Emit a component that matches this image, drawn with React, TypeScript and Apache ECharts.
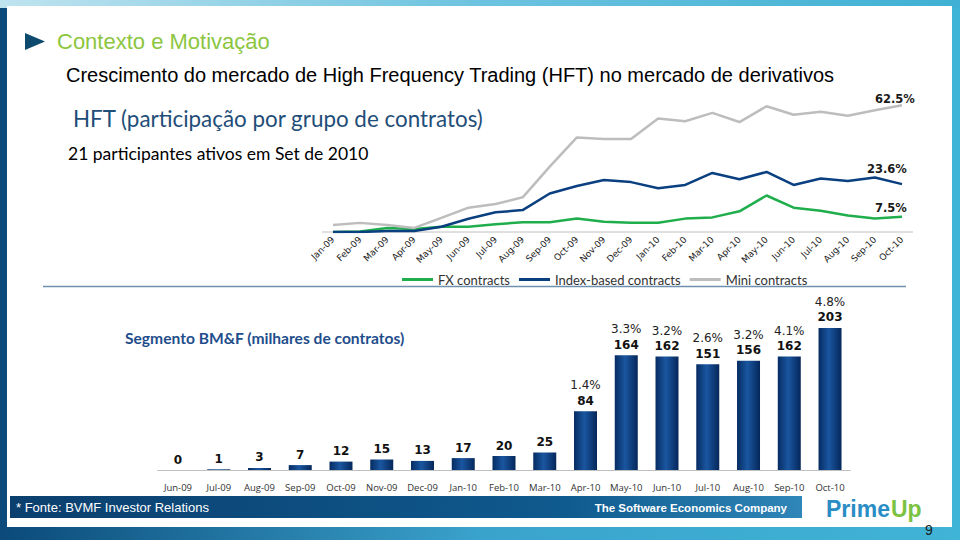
import React, { useEffect, useRef } from "react";
import * as echarts from "echarts";

const lineCats = ["Jan-09","Feb-09","Mar-09","Apr-09","May-09","Jun-09","Jul-09","Aug-09","Sep-09","Oct-09","Nov-09","Dec-09","Jan-10","Feb-10","Mar-10","Apr-10","May-10","Jun-10","Jul-10","Aug-10","Sep-10","Oct-10"];
const fxShare = [0, 0.3, 2.0, 1.5, 2.6, 2.6, 3.8, 4.8, 4.8, 6.6, 5.1, 4.6, 4.6, 6.6, 7.2, 10.2, 18.0, 12.0, 10.5, 8.1, 6.6, 7.5];
const indexShare = [0, 0, 0.5, 0.5, 2.6, 6.5, 9.7, 10.8, 19.0, 22.7, 25.6, 24.6, 21.6, 23.2, 29.1, 26.0, 29.6, 23.2, 26.4, 25.1, 26.9, 23.6];
const miniShare = [3.4, 4.5, 3.4, 2.0, 7.0, 12.0, 13.8, 17.1, 32.2, 46.6, 45.8, 45.8, 55.9, 54.6, 58.7, 54.2, 62.0, 57.8, 59.3, 57.3, 60.0, 62.5];
const lineNames = ["FX contracts", "Index-based contracts", "Mini contracts"];

const barCats = ["Jun-09","Jul-09","Aug-09","Sep-09","Oct-09","Nov-09","Dec-09","Jan-10","Feb-10","Mar-10","Apr-10","May-10","Jun-10","Jul-10","Aug-10","Sep-10","Oct-10"];
const barValues = [0, 1, 3, 7, 12, 15, 13, 17, 20, 25, 84, 164, 162, 151, 156, 162, 203];
const barPercents = [null, null, null, null, null, null, null, null, null, null, "1.4%", "3.3%", "3.2%", "2.6%", "3.2%", "4.1%", "4.8%"];

export default function App() {
  const ref = useRef<HTMLDivElement>(null);
  useEffect(() => {
    if (!ref.current) return;
    const chart = echarts.init(ref.current, null, { renderer: "svg" });
    const lineSeries = (i: number, data: number[], color: string, offset: number[]) => ({
      name: lineNames[i], type: "line", xAxisIndex: 0, yAxisIndex: 0, data,
      symbol: "none", showSymbol: false,
      lineStyle: { color, width: 2.5 }, itemStyle: { color },
      endLabel: {
        show: true,
        offset,
        fontFamily: "DejaVu Sans",
        fontWeight: "bold",
        fontSize: 11.5,
        color: "#1a1a1a",
        formatter: (p: any) => Number(p.value).toFixed(1) + "%",
      },
    });
    const option: any = {
      animation: false,
      backgroundColor: "#ffffff",
      graphic: [
        { type: "rect", z: -10, shape: { x: 0, y: 0, width: 960, height: 540 },
          style: { fill: new echarts.graphic.LinearGradient(0, 0, 1, 0, [
            { offset: 0, color: "#0b4a7a" }, { offset: 0.5, color: "#3aa3cc" }, { offset: 1, color: "#40b4d6" }]) } },
        { type: "rect", z: -9, shape: { x: 0, y: 0, width: 960, height: 8 },
          style: { fill: new echarts.graphic.LinearGradient(0, 0, 1, 0, [
            { offset: 0, color: "#bfe3ef" }, { offset: 0.5, color: "#6cc3df" }, { offset: 1, color: "#3fb0d3" }]) } },
        { type: "rect", z: -8, shape: { x: 7, y: 6, width: 945, height: 521 }, style: { fill: "#ffffff" } },
        { type: "polygon", shape: { points: [[25, 33], [45, 41.5], [25, 50]] }, style: { fill: "#0e4a6e" } },
        { type: "text", x: 57, y: 41, style: { text: "Contexto e Motivação", fontFamily: "Liberation Sans", fontSize: 22, fill: "#8cc63f", verticalAlign: "middle" } },
        { type: "text", x: 66, y: 75, style: { text: "Crescimento do mercado de High Frequency Trading (HFT) no mercado de derivativos", fontFamily: "Liberation Sans", fontSize: 20, fill: "#000000", verticalAlign: "middle" } },
        { type: "text", x: 73, y: 118, style: { text: "HFT (participação por grupo de contratos)", fontFamily: "Lato", fontSize: 22.4, fill: "#1f4e79", verticalAlign: "middle" } },
        { type: "text", x: 68, y: 153, style: { text: "21 participantes ativos em Set de 2010", fontFamily: "Lato", fontSize: 17.5, fill: "#000000", verticalAlign: "middle" } },
        { type: "line", shape: { x1: 322, y1: 232, x2: 913, y2: 232 }, style: { stroke: "#c0c0c0", lineWidth: 1 } },
        { type: "line", shape: { x1: 43, y1: 286.5, x2: 906, y2: 286.5 }, style: { stroke: "#6f8fae", lineWidth: 1.5 } },
        { type: "text", x: 125, y: 338, style: { text: "Segmento BM&F (milhares de contratos)", fontFamily: "Lato", fontWeight: "bold", fontSize: 15.6, fill: "#1f4e8c", verticalAlign: "middle" } },
        { type: "rect", shape: { x: 10, y: 496, width: 792, height: 22 },
          style: { fill: new echarts.graphic.LinearGradient(0, 0, 1, 0, [
            { offset: 0, color: "#0b3f6e" }, { offset: 0.7, color: "#0f5a8e" }, { offset: 1, color: "#2f86b8" }]) } },
        { type: "text", x: 16, y: 507, style: { text: "* Fonte: BVMF Investor Relations", fontFamily: "Liberation Sans", fontSize: 13, fill: "#ffffff", verticalAlign: "middle" } },
        { type: "text", x: 787, y: 508, style: { text: "The Software Economics Company", fontFamily: "Liberation Sans", fontWeight: "bold", fontSize: 11.5, fill: "#ffffff", align: "right", verticalAlign: "middle" } },
        { type: "text", x: 826, y: 509, style: { text: "Prime", fontFamily: "Liberation Sans", fontWeight: "bold", fontSize: 23, fill: "#2a8dc5", verticalAlign: "middle" } },
        { type: "text", x: 891, y: 509, style: { text: "Up", fontFamily: "Liberation Sans", fontWeight: "bold", fontSize: 23, fill: "#7cc242", verticalAlign: "middle" } },
        { type: "text", x: 929, y: 530, style: { text: "9", fontFamily: "Liberation Sans", fontSize: 14, fill: "#1a1a1a", align: "center", verticalAlign: "middle" } },
      ],
      legend: {
        data: lineNames,
        top: 268,
        left: 397,
        icon: "rect",
        itemWidth: 31,
        itemHeight: 3,
        itemGap: 9,
        textStyle: { fontFamily: "Lato", fontSize: 13, color: "#333333" },
      },
      grid: [
        { left: 333, right: 58, top: 90, bottom: 308 },
        { left: 157.6, right: 109.6, top: 302, bottom: 70 },
      ],
      xAxis: [
        {
          gridIndex: 0, type: "category", data: lineCats, boundaryGap: false,
          axisLine: { show: false }, axisTick: { show: false },
          axisLabel: { rotate: 45, fontFamily: "DejaVu Sans", fontSize: 9, color: "#222222", margin: 6, interval: 0 },
        },
        {
          gridIndex: 1, type: "category", data: barCats,
          axisLine: { lineStyle: { color: "#bfbfbf" } },
          axisTick: { lineStyle: { color: "#bfbfbf" } },
          axisLabel: { fontFamily: "Open Sans", fontSize: 9.5, color: "#333333", margin: 12, interval: 0 },
        },
      ],
      yAxis: [
        { gridIndex: 0, type: "value", min: 0, max: 70, show: false },
        { gridIndex: 1, type: "value", min: 0, max: 240, show: false },
      ],
      series: [
        lineSeries(0, fxShare, "#1fae4b", [-35, -9]),
        lineSeries(1, indexShare, "#0a3f80", [-43, -15]),
        lineSeries(2, miniShare, "#bdbdbd", [-35, -6]),
        {
          name: "BM&F", type: "bar", xAxisIndex: 1, yAxisIndex: 1, data: barValues, barWidth: 23,
          itemStyle: {
            color: new echarts.graphic.LinearGradient(0, 0, 1, 0, [
              { offset: 0, color: "#062c62" }, { offset: 0.45, color: "#1a56a0" }, { offset: 1, color: "#05275a" }]),
          },
          label: {
            show: true, position: "top", distance: 3,
            formatter: (p: any) => {
              const pc = barPercents[p.dataIndex];
              return pc ? `{p|${pc}}\n{v|${p.value}}` : `{v|${p.value}}`;
            },
            rich: {
              p: { fontFamily: "DejaVu Sans", fontSize: 12, color: "#222222", lineHeight: 16 },
              v: { fontFamily: "DejaVu Sans", fontWeight: "bold", fontSize: 12, color: "#111111", lineHeight: 15 },
            },
          },
        },
      ],
    };
    chart.setOption(option);
    return () => chart.dispose();
  }, []);
  return <div ref={ref} style={{ position: "fixed", left: 0, top: 0, width: 960, height: 540 }} />;
}
